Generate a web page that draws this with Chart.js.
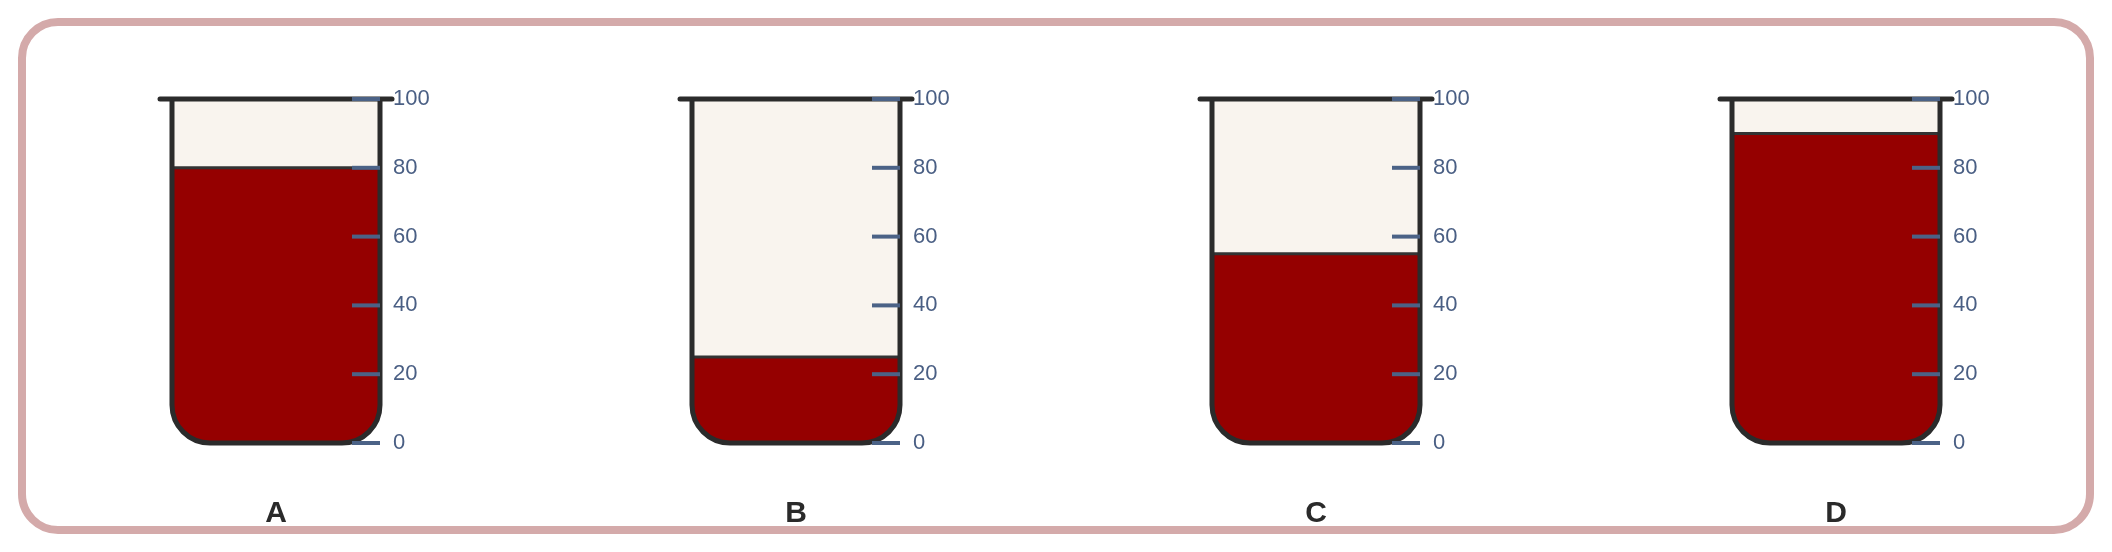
<!DOCTYPE html>
<html>
<head>
<meta charset="utf-8">
<script src="https://cdn.jsdelivr.net/npm/chart.js@4"></script>
<style>
  html, body { margin: 0; padding: 0; background: #fff; overflow: hidden; }
  #frame {
    position: absolute; left: 18px; top: 18px;
    width: 2076px; height: 516px; box-sizing: border-box;
    border: 8px solid #d4aaaa; border-radius: 40px;
  }
  #beakers { position: absolute; left: 0; top: 0; }
</style>
</head>
<body>
<div id="frame"></div>
<canvas id="beakers" width="2112" height="552"></canvas>
<script>
// Beaker fill levels

const categories = ['A', 'B', 'C', 'D'];
const fillLevels = [80, 25, 55, 90];
const capacity = [100, 100, 100, 100];
const tickValues = [0, 20, 40, 60, 80, 100];

const LIQUID = '#950000';
const EMPTY = '#f9f4ee';
const GLASS = '#2b2b2b';
const TICK = '#4b6286';
const FONT = '"Liberation Sans", Arial, sans-serif';
const RADIUS = 38;

// draws glass outline, rim, level line and the scale marks on every beaker
const beakerPlugin = {
    id: 'beakers',
    afterDatasetsDraw(chart) {
        const ctx = chart.ctx;
        const yScale = chart.scales.y;
        const liquid = chart.getDatasetMeta(0).data;
        const glass = chart.getDatasetMeta(1).data;

        glass.forEach((bar, i) => {
            const { x, y: top, base, width } = bar.getProps(['x', 'y', 'base', 'width'], true);
            const l = x - width / 2;
            const r = x + width / 2;
            ctx.save();

            // liquid surface
            const lv = liquid[i].getProps(['y'], true).y;
            ctx.strokeStyle = '#333';
            ctx.lineWidth = 3;
            ctx.beginPath();
            ctx.moveTo(l, lv);
            ctx.lineTo(r, lv);
            ctx.stroke();

            // walls + rounded bottom
            ctx.strokeStyle = GLASS;
            ctx.lineWidth = 5;
            ctx.lineJoin = 'round';
            ctx.beginPath();
            ctx.moveTo(l, top);
            ctx.lineTo(l, base - RADIUS);
            ctx.arcTo(l, base, l + RADIUS, base, RADIUS);
            ctx.lineTo(r - RADIUS, base);
            ctx.arcTo(r, base, r, base - RADIUS, RADIUS);
            ctx.lineTo(r, top);
            ctx.stroke();

            // rim
            ctx.lineCap = 'round';
            ctx.beginPath();
            ctx.moveTo(l - 12, top);
            ctx.lineTo(r + 12, top);
            ctx.stroke();

            // graduation marks
            ctx.lineCap = 'butt';
            ctx.lineWidth = 4;
            ctx.strokeStyle = TICK;
            ctx.fillStyle = '#4a5f84';
            ctx.font = '22px ' + FONT;
            ctx.textAlign = 'left';
            ctx.textBaseline = 'middle';
            tickValues.forEach(v => {
                const py = yScale.getPixelForValue(v);
                ctx.beginPath();
                ctx.moveTo(r - 28, py);
                ctx.lineTo(r, py);
                ctx.stroke();
                ctx.fillText(String(v), r + 13, py);
            });
            ctx.restore();
        });
    }
};

const bottomRound = { topLeft: 0, topRight: 0, bottomLeft: RADIUS, bottomRight: RADIUS };

new Chart(document.getElementById('beakers'), {
    type: 'bar',
    data: {
        labels: categories,
        datasets: [{
            label: 'Level',
            data: fillLevels,
            backgroundColor: LIQUID,
            borderRadius: bottomRound,
            borderSkipped: false,
            grouped: false,
            barPercentage: 0.4,
            categoryPercentage: 1,
        }, {
            label: 'Capacity',
            data: capacity,
            backgroundColor: EMPTY,
            borderRadius: bottomRound,
            borderSkipped: false,
            grouped: false,
            barPercentage: 0.4,
            categoryPercentage: 1,
        }]
    },
    options: {
        responsive: false,
        devicePixelRatio: 1,
        animation: false,
        layout: { padding: { top: 99, left: 16, right: 16, bottom: -33 } },
        plugins: {
            legend: { display: false },
            tooltip: { enabled: false }
        },
        scales: {
            x: {
                grid: { display: false, drawTicks: false },
                border: { display: false },
                ticks: {
                    color: '#2a2a2a',
                    padding: 53,
                    font: { family: FONT, size: 30, weight: 'bold' }
                }
            },
            y: {
                display: false,
                min: 0,
                max: 100
            }
        }
    },
    plugins: [beakerPlugin]
});
</script>
</body>
</html>
